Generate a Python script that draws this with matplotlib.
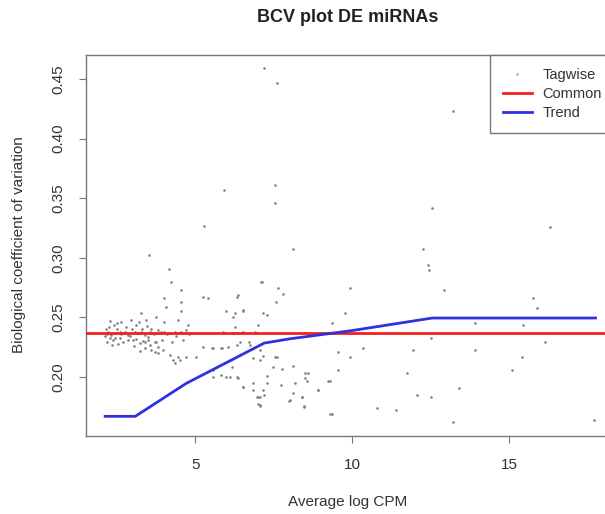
import matplotlib
matplotlib.use("Agg")
import matplotlib.pyplot as plt
from matplotlib.lines import Line2D

plt.rcParams['font.family'] = ['Liberation Sans', 'DejaVu Sans']

# ---- data ----
ave_logcpm = [
    # dense cluster near the common line
    2.22, 2.33, 2.48, 2.59, 2.75, 2.86, 3.07, 3.17, 3.28, 3.39, 3.49, 3.55, 3.65, 3.81,
    4.02, 4.18, 4.34, 4.55, 4.71, 4.93, 5.19, 5.51, 5.88, 6.25, 6.52, 6.89,
    2.27, 2.38, 2.59, 2.70, 2.86, 3.02, 3.23, 3.39, 3.49, 3.55, 3.71, 3.81, 3.39, 3.60,
    3.71, 3.81, 3.97, 4.18, 4.29, 4.34, 4.45, 4.50, 4.71, 5.03, 5.24, 5.56, 5.83, 6.04,
    6.41, 6.73, 7.05, 7.05, 6.15, 5.56, 5.83, 5.99, 6.36, 6.52, 6.84, 6.99, 7.05,
    2.15, 2.18, 2.25, 2.40, 2.45, 2.52, 2.65, 2.80, 2.92, 3.00, 3.10, 3.12, 3.30, 3.35,
    3.45, 3.60, 3.70, 3.75, 3.90, 3.95, 4.10, 4.25, 4.40, 4.60, 4.80, 2.20, 2.35, 2.55,
    3.05, 3.25, 2.50, 2.30, 2.12,
    # above the common line, left part
    3.53, 4.17, 4.24, 4.55, 4.00, 5.25, 4.55, 7.10, 3.28, 3.76, 4.08, 4.55, 2.64, 2.96,
    3.22, 3.44, 4.00, 4.46, 4.78, 5.99, 6.20, 6.53, 6.37, 5.41,
    # middle part
    7.55, 7.55, 8.12, 7.13, 7.64, 7.80, 6.34, 7.58, 6.53, 6.27, 7.29, 7.00, 6.27, 6.70,
    6.34, 7.17, 7.55, 6.18, 7.48, 7.77, 8.12, 8.60, 6.34, 7.29, 8.50, 9.24, 6.85, 7.29,
    7.74, 6.53, 8.90, 7.17, 8.12, 7.07, 8.40, 8.00, 7.20, 7.00, 8.45, 9.30,
    5.57, 6.10, 5.54, 5.86, 6.97, 7.07, 8.03, 8.18, 6.85, 7.60, 7.17,
    # high outliers
    7.20, 7.60, 13.20, 5.92, 5.29, 12.55, 16.30,
    # right part
    12.26, 12.40, 12.45, 9.94, 12.93, 15.76, 15.90, 9.78, 9.36, 13.90, 15.45, 12.50,
    10.35, 11.94, 13.90, 16.15, 9.56, 9.94, 15.40, 9.56, 15.10, 11.75, 8.50, 8.57,
    9.30, 13.40, 8.90, 12.07, 12.50, 8.40, 8.45, 10.80, 11.40, 9.36, 13.20, 17.70,
]
tagwise_bcv = [
    0.2380, 0.2352, 0.2366, 0.2380, 0.2380, 0.2352, 0.2380, 0.2366, 0.2380, 0.2352, 0.2338, 0.2380, 0.2366, 0.2394,
    0.2380, 0.2366, 0.2380, 0.2380, 0.2394, 0.2366, 0.2366, 0.2366, 0.2380, 0.2366, 0.2380, 0.2380,
    0.2324, 0.2310, 0.2324, 0.2296, 0.2310, 0.2310, 0.2282, 0.2296, 0.2310, 0.2268, 0.2296, 0.2254, 0.2240, 0.2226,
    0.2212, 0.2198, 0.2226, 0.2184, 0.2142, 0.2114, 0.2170, 0.2142, 0.2170, 0.2170, 0.2254, 0.2240, 0.2240, 0.2254,
    0.2296, 0.2268, 0.2226, 0.2142, 0.2142, 0.2058, 0.2016, 0.2002, 0.1988, 0.1918, 0.1890, 0.1835, 0.1765,
    0.2400, 0.2360, 0.2420, 0.2440, 0.2330, 0.2400, 0.2360, 0.2420, 0.2340, 0.2400, 0.2440, 0.2320, 0.2400, 0.2300,
    0.2430, 0.2400, 0.2360, 0.2290, 0.2380, 0.2310, 0.2360, 0.2290, 0.2340, 0.2310, 0.2360, 0.2290, 0.2270, 0.2280,
    0.2260, 0.2220, 0.2450, 0.2470, 0.2340,
    0.302, 0.291, 0.280, 0.273, 0.266, 0.267, 0.263, 0.280, 0.254, 0.250, 0.259, 0.255, 0.246, 0.248,
    0.246, 0.248, 0.246, 0.248, 0.244, 0.255, 0.250, 0.256, 0.269, 0.266,
    0.361, 0.346, 0.307, 0.280, 0.275, 0.270, 0.267, 0.263, 0.255, 0.254, 0.252, 0.244, 0.242, 0.229,
    0.227, 0.218, 0.217, 0.208, 0.208, 0.207, 0.209, 0.203, 0.200, 0.201, 0.199, 0.197, 0.195, 0.195,
    0.193, 0.192, 0.189, 0.189, 0.187, 0.183, 0.183, 0.180, 0.185, 0.177, 0.175, 0.169,
    0.200, 0.200, 0.224, 0.224, 0.183, 0.176, 0.181, 0.195, 0.216, 0.217, 0.254,
    0.459, 0.447, 0.423, 0.357, 0.327, 0.342, 0.326,
    0.307, 0.294, 0.290, 0.275, 0.273, 0.266, 0.258, 0.254, 0.245, 0.245, 0.244, 0.233,
    0.224, 0.223, 0.223, 0.229, 0.221, 0.217, 0.217, 0.206, 0.206, 0.203, 0.203, 0.197,
    0.197, 0.191, 0.189, 0.185, 0.183, 0.183, 0.176, 0.174, 0.172, 0.169, 0.162, 0.164,
]
common_bcv = 0.2366
trend_x = [2.13, 3.09, 4.71, 7.20, 8.00, 10.00, 12.55, 17.75]
trend_y = [0.167, 0.167, 0.1946, 0.2285, 0.232, 0.239, 0.2495, 0.2495]

title = "BCV plot DE miRNAs"
xlabel = "Average log CPM"
ylabel = "Biological coefficient of variation"
legend_labels = ["Tagwise", "Common", "Trend"]
xticks = [5, 10, 15]
yticks = [0.20, 0.25, 0.30, 0.35, 0.40, 0.45]

# ---- figure ----
fig = plt.figure(figsize=(6.05, 5.14), dpi=100)
ax = fig.add_axes([86/605, 1-436/514, (615-86)/605, (436-55)/514])

ax.scatter(ave_logcpm, tagwise_bcv, s=3.5, c='#808080', linewidths=0, zorder=2)
ax.axhline(common_bcv, color='#f02020', lw=2, zorder=3)
ax.plot(trend_x, trend_y, color='#3030e0', lw=2, zorder=4)

ax.set_xlim(1.52, 18.37)
ax.set_ylim(0.1505, 0.4702)
ax.set_xticks(xticks)
ax.set_xticklabels([str(t) for t in xticks])
ax.set_yticks(yticks)
ax.set_yticklabels([f"{t:.2f}" for t in yticks], rotation=90, va='center')

for sp in ax.spines.values():
    sp.set_color('#777777')
    sp.set_linewidth(1.0)
ax.tick_params(direction='out', length=5, width=0.8, color='#777777',
               labelsize=11, labelcolor='#333333')
ax.tick_params(axis='x', pad=11)
ax.tick_params(axis='y', pad=10)

fig.text(348/605, 1-17/514, title, ha='center', va='center',
         fontsize=13, fontweight='bold', color='#222222')
fig.text(348/605, 1-502/514, xlabel, ha='center', va='center',
         fontsize=11, color='#333333')
fig.text(19/605, 1-245/514, ylabel, ha='center', va='center',
         rotation=90, fontsize=11, color='#333333')

handles = [
    Line2D([], [], linestyle='none', marker='o', markersize=1.6,
           markerfacecolor='#999999', markeredgewidth=0),
    Line2D([], [], color='#f02020', lw=2),
    Line2D([], [], color='#3030e0', lw=2),
]
leg = ax.legend(handles, legend_labels, loc='upper right', borderaxespad=0,
                fontsize=10.5, frameon=True, fancybox=False, framealpha=1,
                edgecolor='#777777', handlelength=1.95, handletextpad=0.75,
                labelspacing=0.35, borderpad=0.9)
leg.get_frame().set_linewidth(1.0)
for t in leg.get_texts():
    t.set_color('#333333')

fig.savefig("out.png", dpi=100)
